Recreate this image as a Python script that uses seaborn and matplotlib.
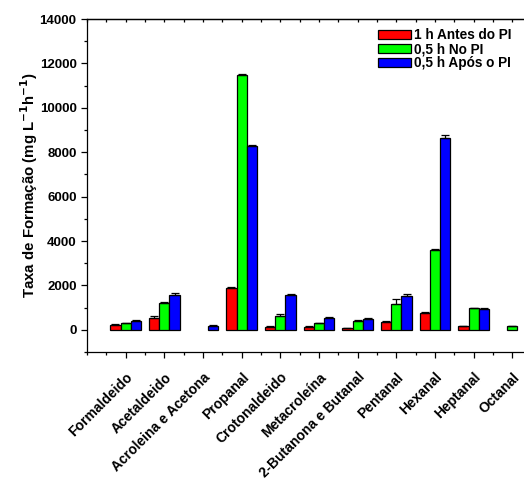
import numpy as np
import pandas as pd
import matplotlib
matplotlib.use("Agg")
import matplotlib.pyplot as plt
import seaborn as sns
from matplotlib.ticker import MultipleLocator

categories = ["Formaldeido", "Acetaldeido", "Acroleina e Acetona", "Propanal",
              "Crotonaldeido", "Metacroleína", "2-Butanona e Butanal", "Pentanal",
              "Hexanal", "Heptanal", "Octanal"]
series = ["1 h Antes do PI", "0,5 h No PI", "0,5 h Após o PI"]
antes = [212, 545, np.nan, 1864, 136, 136, 76, 364, 742, 152, np.nan]
no_pi = [288, 1227, np.nan, 11490, 606, 288, 379, 1151, 3590, 970, 182]
apos = [409, 1560, 182, 8300, 1576, 515, 485, 1545, 8650, 940, np.nan]
err_antes = [30, 90, 0, 60, 20, 20, 15, 30, 40, 20, 0]
err_no = [20, 30, 0, 30, 90, 20, 40, 230, 50, 20, 10]
err_apos = [20, 120, 20, 40, 30, 40, 30, 60, 120, 60, 0]
colors = ["#FF0000", "#00FF00", "#0000FF"]

rows = []
for s, vals in zip(series, [antes, no_pi, apos]):
    for c, v in zip(categories, vals):
        rows.append({"cat": c, "serie": s, "val": v})
df = pd.DataFrame(rows)

sns.set_style("ticks")
plt.rcParams['font.family'] = ['Liberation Sans', 'DejaVu Sans']
plt.rcParams['font.weight'] = 'bold'
for k in ["text.color", "axes.labelcolor", "xtick.color", "ytick.color", "axes.edgecolor"]:
    plt.rcParams[k] = "black"

fig = plt.figure(figsize=(5.24, 4.93), dpi=100)
ax = fig.add_axes([87/524, (493-352)/493, 464/524, 333/493])

sns.barplot(data=df, x="cat", y="val", hue="serie", order=categories,
            hue_order=series, palette=colors, edgecolor="black", linewidth=0.9,
            errorbar=None, saturation=1, ax=ax, width=0.8)

# error bars (upper only), matched to bars by their position
nc = len(categories)
for si, errs in enumerate([err_antes, err_no, err_apos]):
    cont = ax.containers[si]
    for bar in cont:
        h = bar.get_height()
        x = bar.get_x() + bar.get_width() / 2
        ci = int(round(x))
        e = errs[ci]
        if np.isnan(h) or e == 0:
            continue
        ax.errorbar([x], [h], yerr=[[0], [e]], fmt="none", ecolor="black",
                    elinewidth=0.9, capsize=3, capthick=0.9)

ax.set_xlim(-1, 11)
ax.set_ylim(-1000, 14000)
ax.yaxis.set_major_locator(MultipleLocator(2000))
ax.yaxis.set_minor_locator(MultipleLocator(1000))
ax.set_xticks(range(nc))
ax.xaxis.set_minor_locator(MultipleLocator(0.5))
ax.set_xticklabels(categories, rotation=45, ha="right", rotation_mode="anchor",
                   fontsize=10, fontweight="bold")
for lab in ax.get_yticklabels():
    lab.set_fontweight("bold")
    lab.set_fontsize(9.5)
ax.tick_params(axis="both", which="major", length=4, width=0.9, direction="out")
ax.tick_params(axis="both", which="minor", length=2.5, width=0.9, direction="out")
ax.tick_params(axis="x", pad=9)
ax.set_xlabel("")
ax.set_ylabel("Taxa de Formação (mg L$^{\\mathbf{-1}}$h$^{\\mathbf{-1}}$)",
              fontsize=10.8, fontweight="bold", labelpad=0)
for sp in ax.spines.values():
    sp.set_linewidth(0.9)
ax.spines["right"].set_visible(False)

sec = ax.secondary_xaxis("top")
sec.set_xticks(range(nc))
sec.xaxis.set_minor_locator(MultipleLocator(0.5))
sec.tick_params(which="both", direction="in", labeltop=False, length=2.5, width=0.9)
sec.spines["top"].set_linewidth(0.9)

leg = ax.legend(loc="upper left", bbox_to_anchor=(0.616, 0.988), frameon=False,
                prop={"weight": "bold", "size": 9.8}, handlelength=2.4,
                handleheight=0.65, labelspacing=0.0, handletextpad=0.25,
                borderaxespad=0)

fig.savefig("out.png", dpi=100)
